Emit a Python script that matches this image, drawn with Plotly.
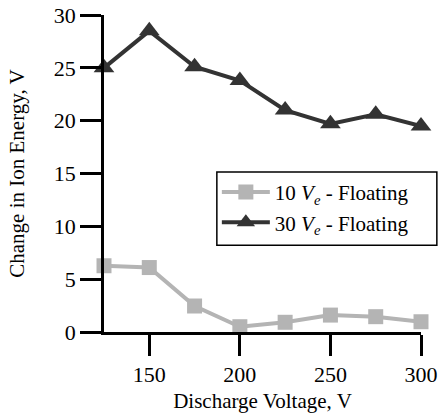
import plotly.graph_objects as go

# Discharge voltage sweep and measured change in ion energy
voltage = [125, 150, 175, 200, 225, 250, 275, 300]
ve10_floating = [6.27, 6.1, 2.46, 0.5, 0.92, 1.6, 1.45, 0.97]
ve30_floating = [25.0, 28.5, 25.1, 23.8, 21.0, 19.7, 20.6, 19.5]

x_ticks = [150, 200, 250, 300]
y_ticks = [0, 5, 10, 15, 20, 25, 30]

FONT = "Times New Roman, Liberation Serif, serif"
LIGHT = "#b4b4b4"
DARK = "#333333"

fig = go.Figure()
fig.add_trace(go.Scatter(
    x=voltage, y=ve10_floating, mode="lines+markers",
    name="10 <i>V</i><sub><i>e</i></sub> - Floating",
    line=dict(color=LIGHT, width=4),
    marker=dict(symbol="square", size=15, color=LIGHT),
    cliponaxis=False,
))
fig.add_trace(go.Scatter(
    x=voltage, y=ve30_floating, mode="lines+markers",
    name="30 <i>V</i><sub><i>e</i></sub> - Floating",
    line=dict(color=DARK, width=4),
    marker=dict(symbol="triangle-up", size=18, color=DARK),
    cliponaxis=False,
))

axis_common = dict(
    showgrid=False, zeroline=False, showline=True, linecolor="black",
    linewidth=2.5, ticks="outside", ticklen=21, tickwidth=2.5, tickcolor="black",
    tickfont=dict(family=FONT, size=22, color="black"),
    automargin=False,
)

# Legend frame drawn as a paper-anchored box so it can be wider than the entries
legend_box = dict(type="rect", xref="paper", yref="paper",
                  x0=0.356, x1=1.05, y0=0.274, y1=0.505,
                  line=dict(color="black", width=1.5), fillcolor="white", layer="below")

fig.update_layout(
    width=438, height=418,
    margin=dict(l=104, r=17, t=15, b=86),
    paper_bgcolor="white", plot_bgcolor="white",
    font=dict(family=FONT, color="black"),
    xaxis=dict(range=[125, 300], tickvals=x_ticks,
               title=dict(text="Discharge Voltage, V", font=dict(family=FONT, size=21), standoff=8),
               **axis_common),
    yaxis=dict(range=[0, 30], tickvals=y_ticks,
               title=dict(text="Change in Ion Energy, V", font=dict(family=FONT, size=21), standoff=24),
               **axis_common),
    legend=dict(
        x=0.356, y=0.505, xanchor="left", yanchor="top",
        borderwidth=0, bgcolor="rgba(0,0,0,0)",
        font=dict(family=FONT, size=21, color="black"),
        itemwidth=48, tracegroupgap=0,
    ),
    shapes=[legend_box],
    showlegend=True,
)

fig.write_html("out.html")
